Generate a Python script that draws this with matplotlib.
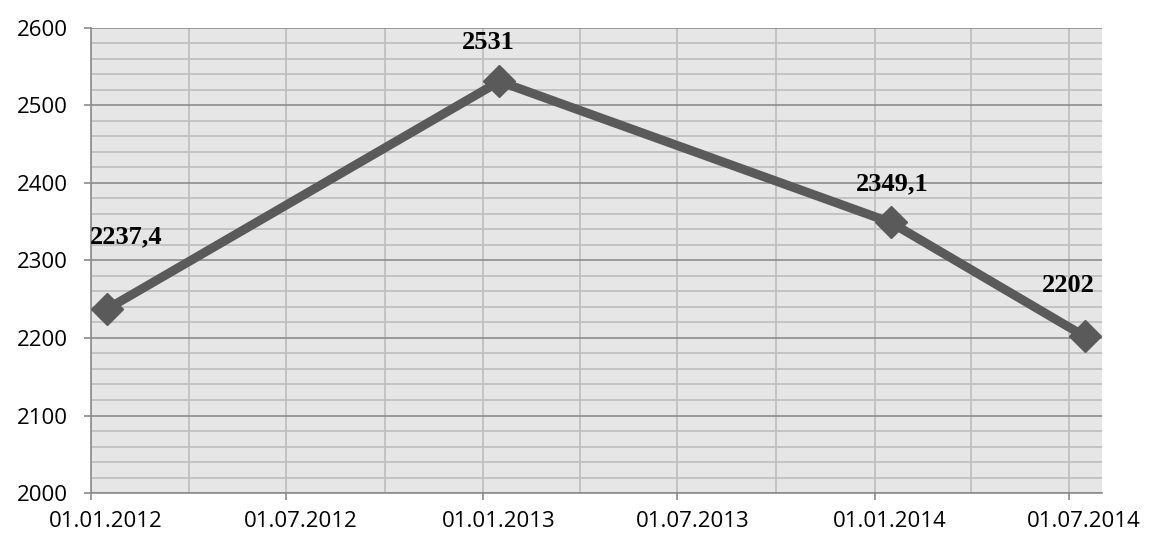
import numpy as np
import matplotlib.pyplot as plt
import matplotlib.dates as mdates
from matplotlib.ticker import MultipleLocator
from matplotlib.transforms import ScaledTranslation
from datetime import date

# data (Excel month axis: points sit in the middle of the month)
dates = [date(2012, 1, 16), date(2013, 1, 16), date(2014, 1, 16), date(2014, 7, 16)]
values = [2237.4, 2531, 2349.1, 2202]
labels = ['2237,4', '2531', '2349,1', '2202']

fig = plt.figure(figsize=(11.49, 5.37), dpi=100)
ax = fig.add_axes([0.0792, 0.0819, 0.8798, 0.8661])
ax.set_facecolor('#e6e6e6')

ax.plot(dates, values, color='#5a5a5a', lw=6.5, marker='D', ms=16,
        solid_joinstyle='miter', zorder=3)

# label offsets in points (x, y)
offsets = [(14, 52), (-8, 28), (1, 28), (-12, 37)]
for d, v, t, off in zip(dates, values, labels, offsets):
    ax.annotate(t, (mdates.date2num(d), v), xytext=off, textcoords='offset points',
                ha='center', va='center', fontsize=19, fontweight='bold',
                family='Liberation Serif', zorder=4)

ax.set_xlim(date(2012, 1, 1), date(2014, 8, 1))
ax.set_ylim(2000, 2600)

ax.xaxis.set_major_locator(mdates.MonthLocator(bymonth=[1, 7]))
ax.xaxis.set_minor_locator(mdates.MonthLocator(bymonth=[4, 10]))
ax.xaxis.set_major_formatter(mdates.DateFormatter('%d.%m.%Y'))
ax.yaxis.set_major_locator(MultipleLocator(100))
ax.yaxis.set_minor_locator(MultipleLocator(20))

ax.grid(which='major', axis='y', color='#8c8c8c', lw=1.2, zorder=0)
ax.grid(which='minor', axis='y', color='#bdbdbd', lw=1.2, zorder=0)
ax.grid(which='both', axis='x', color='#bdbdbd', lw=1.2, zorder=0)
ax.set_axisbelow(True)

for s in ['top', 'right']:
    ax.spines[s].set_visible(False)
for s in ['left', 'bottom']:
    ax.spines[s].set_color('#8c8c8c')
    ax.spines[s].set_linewidth(1.2)

ax.tick_params(which='major', length=5, width=1.2, color='#8c8c8c',
               labelsize=16)
ax.tick_params(axis='y', pad=12)
ax.tick_params(axis='x', pad=8)
ax.tick_params(which='minor', length=0)

# Excel centres the month labels inside the month
shift = ScaledTranslation(15 / 100, 0, fig.dpi_scale_trans)
for lab in ax.get_xticklabels():
    lab.set_family('Open Sans')
    lab.set_transform(lab.get_transform() + shift)
for lab in ax.get_yticklabels():
    lab.set_family('Open Sans')

fig.savefig('out.png', dpi=100)
